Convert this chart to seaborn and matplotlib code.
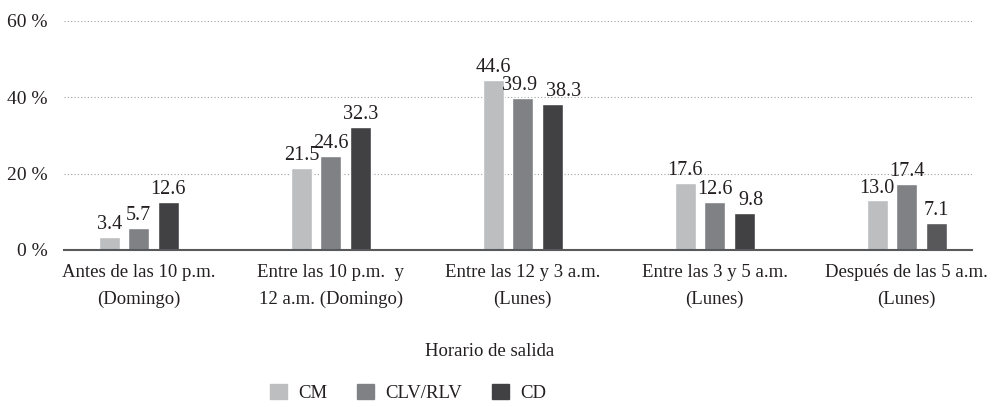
"""Horario de salida por grupo: barras agrupadas."""

import matplotlib

matplotlib.use("Agg", force=True)

import matplotlib.pyplot as plt
import pandas as pd
import seaborn as sns

categories = [
    "Antes de las 10 p.m.\n(Domingo)",
    "Entre las 10 p.m.  y\n12 a.m. (Domingo)",
    "Entre las 12 y 3 a.m.\n(Lunes)",
    "Entre las 3 y 5 a.m.\n(Lunes)",
    "Después de las 5 a.m.\n(Lunes)",
]
series_names = ["CM", "CLV/RLV", "CD"]
cm_values = [3.4, 21.5, 44.6, 17.6, 13.0]
clv_values = [5.7, 24.6, 39.9, 12.6, 17.4]
cd_values = [12.6, 32.3, 38.3, 9.8, 7.1]
y_ticks = [0, 20, 40, 60]

colors = ["#BDBEC0", "#808184", "#414042"]

rows = []
for name, values in zip(series_names, [cm_values, clv_values, cd_values]):
    for cat, val in zip(categories, values):
        rows.append({"categoria": cat, "grupo": name, "valor": val})
data = pd.DataFrame(rows)

sns.set_style("white")
plt.rcParams["font.family"] = ["Liberation Serif", "DejaVu Serif"]

fig = plt.figure(figsize=(10.04, 4.07), dpi=100)
ax = fig.add_axes([64 / 1004, 1 - 250 / 407, (972 - 64) / 1004, (250 - 21) / 407])

sns.barplot(
    data=data,
    x="categoria",
    y="valor",
    hue="grupo",
    order=categories,
    hue_order=series_names,
    palette=colors,
    width=0.46,
    gap=0.28,
    saturation=1,
    ax=ax,
    legend=False,
)
# the last CD bar is printed a shade lighter in the source
ax.containers[2].patches[-1].set_facecolor("#58585A")

value_labels = []
for container in ax.containers:
    value_labels.append(
        ax.bar_label(container, fmt="%.1f", padding=2, fontsize=14.5, color="#231F20")
    )
# crowded labels are nudged sideways as in the source
value_labels[1][2].xyann = (-2, 2)
value_labels[2][2].xyann = (8, 2)
value_labels[2][3].xyann = (5, 2)

ax.set_xlim(-0.39, 4.34)
ax.set_ylim(0, 60)
ax.set_yticks(y_ticks)
ax.set_yticklabels([f"{t} %" for t in y_ticks], fontsize=14, color="#231F20")
ax.tick_params(axis="y", length=0, pad=12)
ax.tick_params(axis="x", length=0, pad=10, labelsize=13.5, labelcolor="#231F20")
for lab in ax.get_xticklabels():
    lab.set_linespacing(1.75)

ax.yaxis.grid(True, linestyle=(0, (1, 2)), color="#9D9FA2", linewidth=0.8)
ax.set_axisbelow(True)
for side in ["top", "right", "left"]:
    ax.spines[side].set_visible(False)
ax.spines["bottom"].set_color("#58595B")
ax.spines["bottom"].set_linewidth(1.5)

ax.set_ylabel("")
ax.set_xlabel("")
fig.text(490 / 1004, 1 - 351 / 407, "Horario de salida", ha="center", va="center",
         fontsize=13.5, color="#231F20")

handles = [plt.Rectangle((0, 0), 1, 1, color=c) for c in colors]
fig.legend(
    handles,
    series_names,
    loc="center",
    bbox_to_anchor=(408 / 1004, 1 - 393 / 407),
    ncol=3,
    frameon=False,
    handlelength=0.9,
    handleheight=0.9,
    handletextpad=0.6,
    columnspacing=1.6,
    fontsize=13.5,
    labelcolor="#231F20",
)

fig.savefig("out.png", dpi=100)
